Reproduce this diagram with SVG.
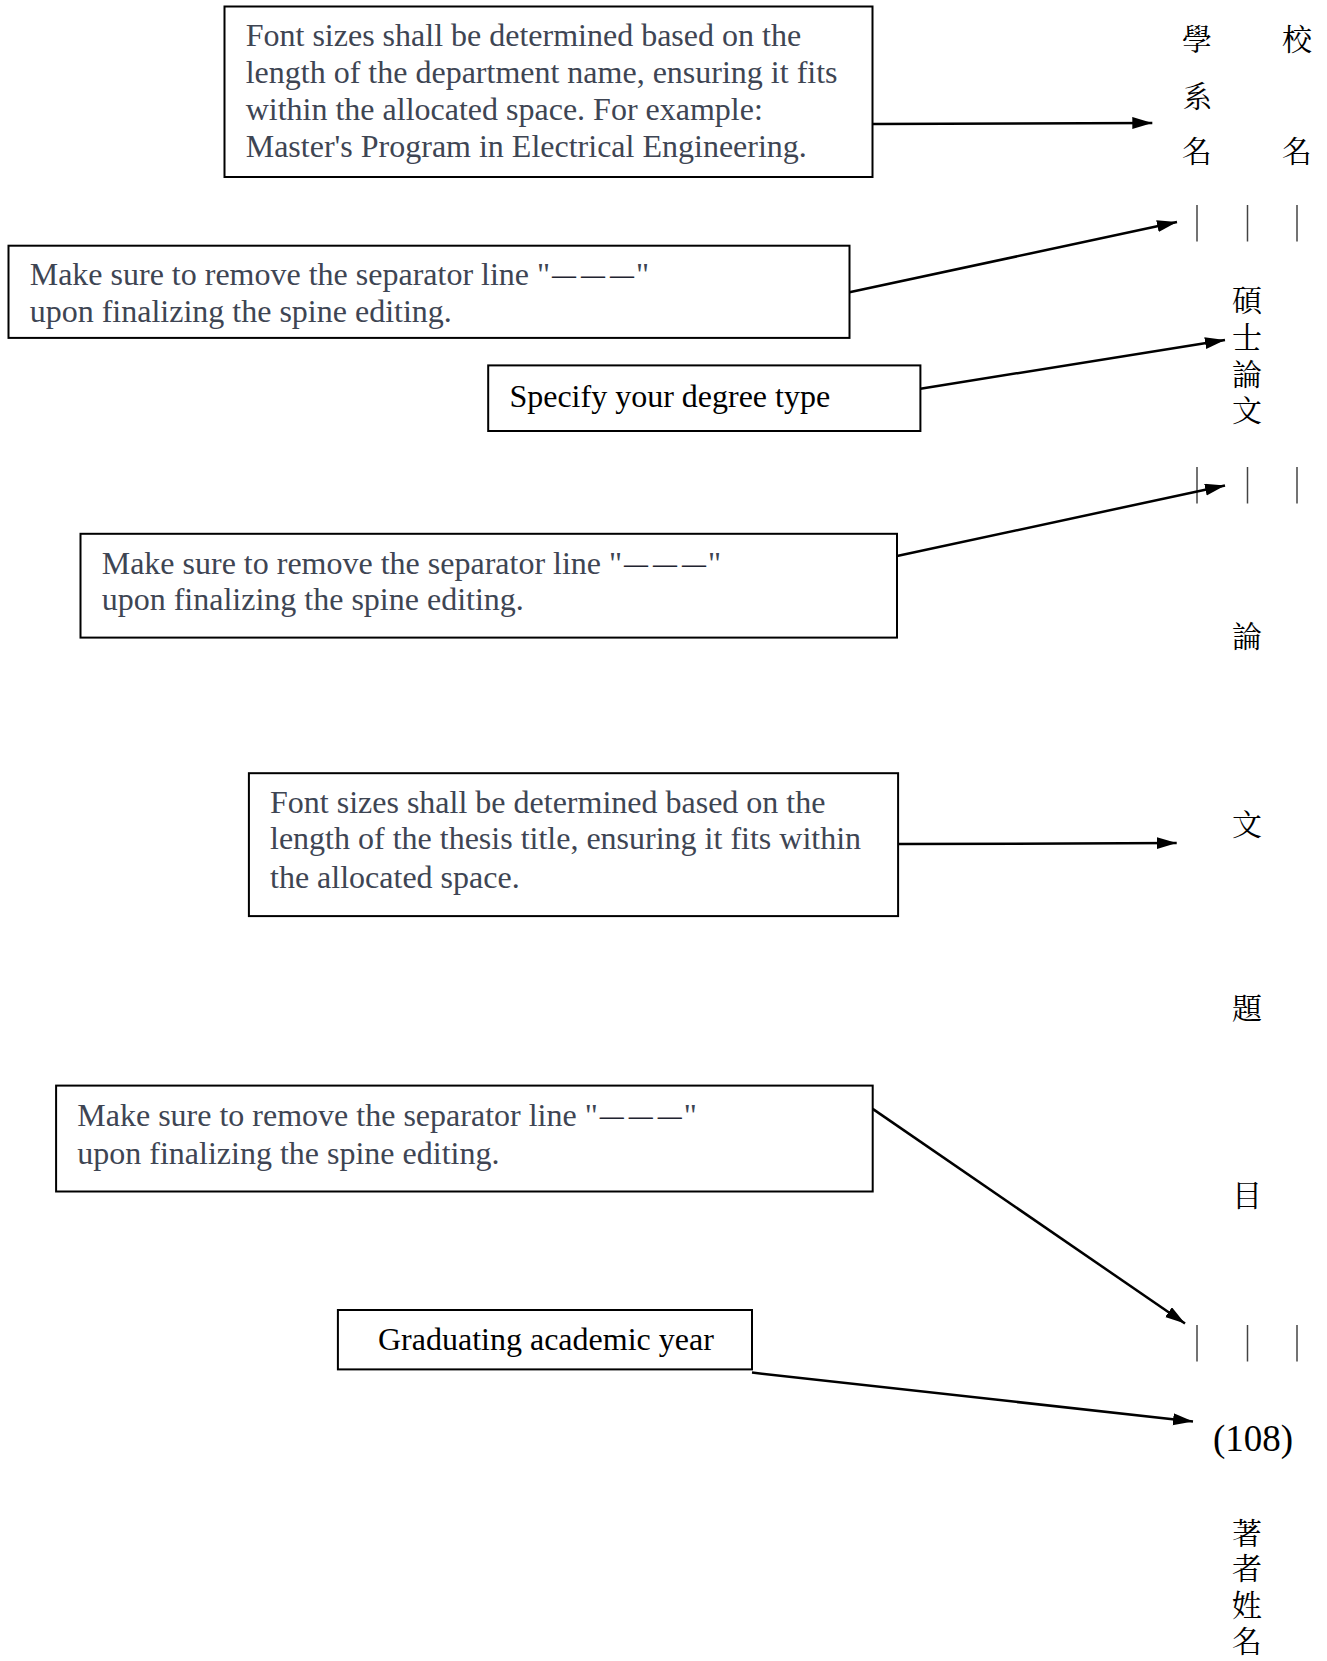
<svg xmlns="http://www.w3.org/2000/svg" width="1327" height="1661" viewBox="0 0 1327 1661">
<style>
.box{fill:#fff;stroke:#000;stroke-width:2}
.note{font-family:"Liberation Serif","Times New Roman",serif;font-size:32px;fill:#3e4553}
.blk{font-family:"Liberation Serif","Times New Roman",serif;font-size:32px;fill:#000}
.dash{font-family:"Liberation Serif","Times New Roman",serif;font-size:24px;fill:#1f2430;font-weight:bold}
.cjk{font-family:"Noto Serif CJK TC","Noto Sans CJK TC","Noto Sans CJK SC",serif;font-size:30px;fill:#000;text-anchor:middle}
.num{font-family:"Liberation Serif","Times New Roman",serif;font-size:37px;fill:#000;text-anchor:middle}
.sep{stroke:#444;stroke-width:1.5}
.conn{stroke:#000;stroke-width:2.5;fill:none;marker-end:url(#ah)}
</style>
<defs>
<marker id="ah" markerUnits="userSpaceOnUse" markerWidth="22" markerHeight="14" refX="20" refY="6" orient="auto">
<path d="M0,0 L20,6 L0,12 z" fill="#000"/>
</marker>
</defs>
<rect width="1327" height="1661" fill="#fff"/>

<g id="spine">
<text class="cjk" x="1197" y="49.5">學</text>
<text class="cjk" x="1197" y="106.5">系</text>
<text class="cjk" x="1197" y="161.5">名</text>
<text class="cjk" x="1297" y="49.5">校</text>
<text class="cjk" x="1297" y="161.5">名</text>
<line class="sep" x1="1197" y1="205" x2="1197" y2="241.5"/>
<line class="sep" x1="1247.5" y1="205" x2="1247.5" y2="241.5"/>
<line class="sep" x1="1297" y1="205" x2="1297" y2="241.5"/>
<text class="cjk" x="1247" y="311">碩</text>
<text class="cjk" x="1247" y="348">士</text>
<text class="cjk" x="1247" y="384.5">論</text>
<text class="cjk" x="1247" y="421">文</text>
<line class="sep" x1="1197" y1="467" x2="1197" y2="503.5"/>
<line class="sep" x1="1247.5" y1="467" x2="1247.5" y2="503.5"/>
<line class="sep" x1="1297" y1="467" x2="1297" y2="503.5"/>
<text class="cjk" x="1247" y="647">論</text>
<text class="cjk" x="1247" y="834.5">文</text>
<text class="cjk" x="1247" y="1018.5">題</text>
<text class="cjk" x="1247" y="1206">目</text>
<line class="sep" x1="1197" y1="1325" x2="1197" y2="1361.5"/>
<line class="sep" x1="1247.5" y1="1325" x2="1247.5" y2="1361.5"/>
<line class="sep" x1="1297" y1="1325" x2="1297" y2="1361.5"/>
<text class="num" x="1253" y="1451">(108)</text>
<text class="cjk" x="1247" y="1543.5">著</text>
<text class="cjk" x="1247" y="1579">者</text>
<text class="cjk" x="1247" y="1615.5">姓</text>
<text class="cjk" x="1247" y="1652">名</text>
</g>

<g id="note-dept">
<rect class="box" x="224.5" y="6.5" width="648" height="170.5"/>
<text class="note" x="245.7" y="45.5">Font sizes shall be determined based on the</text>
<text class="note" x="245.7" y="82.6">length of the department name, ensuring it fits</text>
<text class="note" x="245.7" y="119.7">within the allocated space. For example:</text>
<text class="note" x="245.7" y="156.7">Master's Program in Electrical Engineering.</text>
</g>

<g id="note-sep1">
<rect class="box" x="8.5" y="245.7" width="841" height="92.2"/>
<text class="note" x="29.7" y="285">Make sure to remove the separator line "<tspan class="dash" dx="2" dy="-2">—</tspan><tspan class="dash" dx="5">—</tspan><tspan class="dash" dx="5">—</tspan><tspan dx="2" dy="2">"</tspan></text>
<text class="note" x="29.7" y="322">upon finalizing the spine editing.</text>
</g>

<g id="note-degree">
<rect class="box" x="488.2" y="365.4" width="432.2" height="65.6"/>
<text class="blk" x="509.4" y="407">Specify your degree type</text>
</g>

<g id="note-sep2">
<rect class="box" x="80.5" y="533.8" width="816.5" height="103.8"/>
<text class="note" x="101.7" y="574">Make sure to remove the separator line "<tspan class="dash" dx="2" dy="-2">—</tspan><tspan class="dash" dx="5">—</tspan><tspan class="dash" dx="5">—</tspan><tspan dx="2" dy="2">"</tspan></text>
<text class="note" x="101.7" y="610">upon finalizing the spine editing.</text>
</g>

<g id="note-title">
<rect class="box" x="248.9" y="773.2" width="649.2" height="142.9"/>
<text class="note" x="270" y="813.4">Font sizes shall be determined based on the</text>
<text class="note" x="270" y="849.4">length of the thesis title, ensuring it fits within</text>
<text class="note" x="270" y="887.5">the allocated space.</text>
</g>

<g id="note-sep3">
<rect class="box" x="56.1" y="1085.6" width="816.6" height="105.9"/>
<text class="note" x="77.3" y="1125.8">Make sure to remove the separator line "<tspan class="dash" dx="2" dy="-2">—</tspan><tspan class="dash" dx="5">—</tspan><tspan class="dash" dx="5">—</tspan><tspan dx="2" dy="2">"</tspan></text>
<text class="note" x="77.3" y="1164">upon finalizing the spine editing.</text>
</g>

<g id="note-year">
<rect class="box" x="337.9" y="1310" width="414.1" height="59.4"/>
<text class="blk" x="378" y="1350.4">Graduating academic year</text>
</g>

<g id="connectors">
<line class="conn" x1="872.7" y1="123.9" x2="1152.3" y2="122.9"/>
<line class="conn" x1="849.4" y1="292.3" x2="1177" y2="222"/>
<line class="conn" x1="920.4" y1="388.7" x2="1225" y2="340"/>
<line class="conn" x1="897" y1="556" x2="1225" y2="485.5"/>
<line class="conn" x1="898.1" y1="844.1" x2="1176.7" y2="843"/>
<line class="conn" x1="872.7" y1="1108.9" x2="1185" y2="1323.5"/>
<line class="conn" x1="752" y1="1372.6" x2="1193" y2="1421.5"/>
</g>
</svg>
